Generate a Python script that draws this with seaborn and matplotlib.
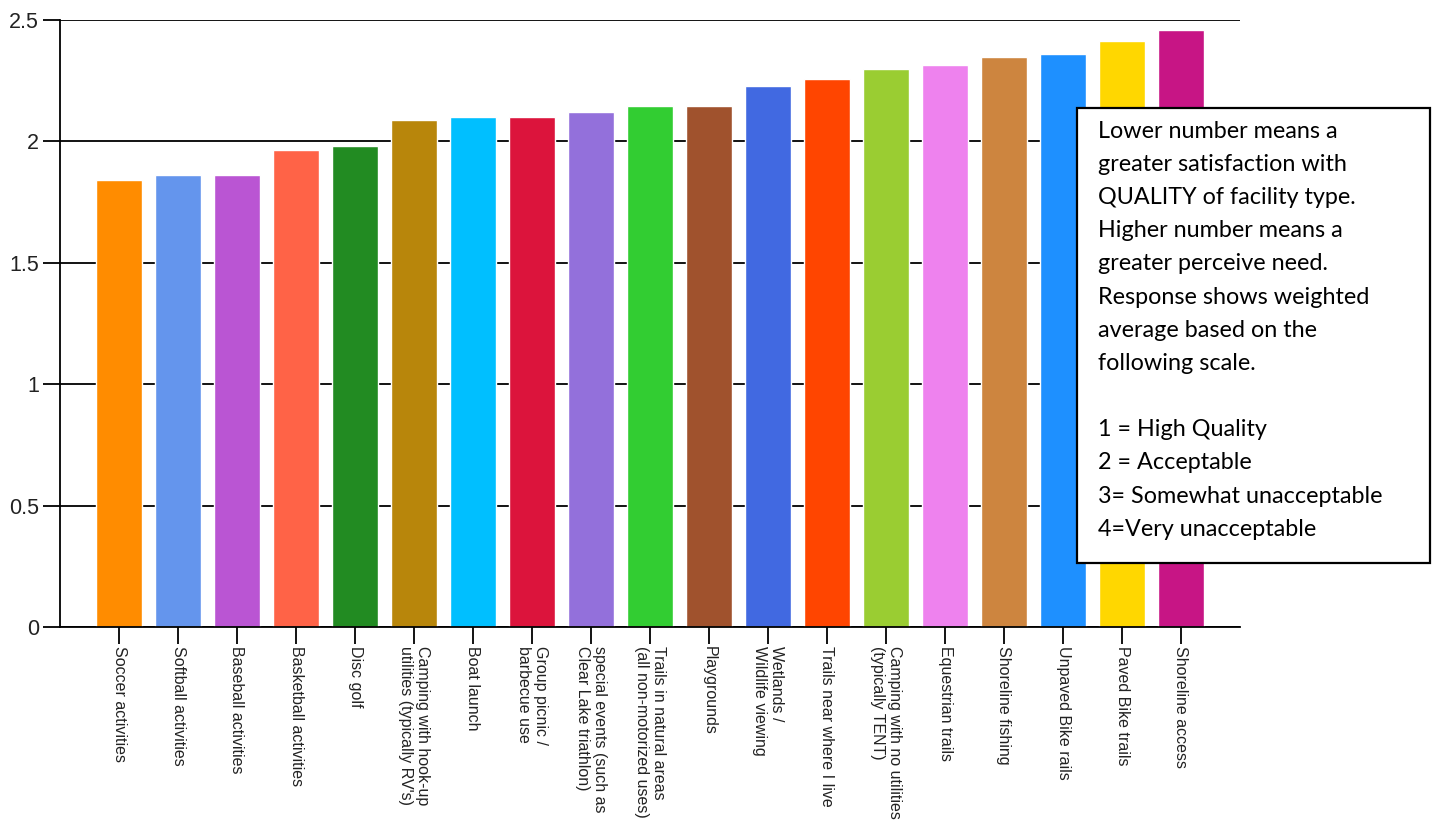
import matplotlib
matplotlib.use("Agg")
import matplotlib.pyplot as plt
import matplotlib.patches as mpatches
from matplotlib.ticker import FuncFormatter
import seaborn as sns
import pandas as pd

categories = [
    "Soccer activities",
    "Softball activities",
    "Baseball activities",
    "Basketball activities",
    "Disc golf",
    "Camping with hook-up\nutilities (typically RV's)",
    "Boat launch",
    "Group picnic /\nbarbecue use",
    "special events (such as\nClear Lake triathlon)",
    "Trails in natural areas\n(all non-motorized uses)",
    "Playgrounds",
    "Wetlands /\nWildlife viewing",
    "Trails near where I live",
    "Camping with no utilities\n(typically TENT)",
    "Equestrian trails",
    "Shoreline fishing",
    "Unpaved Bike rails",
    "Paved Bike trails",
    "Shoreline access",
]
values = [1.84, 1.86, 1.86, 1.965, 1.98, 2.09, 2.10, 2.10, 2.12, 2.146, 2.146,
          2.228, 2.257, 2.298, 2.315, 2.348, 2.36, 2.413, 2.459]
colors = ["#FF8C00", "#6495ED", "#BA55D3", "#FF6347", "#228B22", "#B8860B",
          "#00BFFF", "#DC143C", "#9370DB", "#32CD32", "#A0522D", "#4169E1",
          "#FF4500", "#9ACD32", "#EE82EE", "#CD853F", "#1E90FF", "#FFD700",
          "#C71585"]
y_ticks = [0, 0.5, 1, 1.5, 2, 2.5]

note_lines = [
    "Lower number means a",
    "greater satisfaction with",
    "QUALITY of facility type.",
    "Higher number means a",
    "greater perceive need.",
    "Response shows weighted",
    "average based on the",
    "following scale.",
    "",
    "1 = High Quality",
    "2 = Acceptable",
    "3= Somewhat unacceptable",
    "4=Very unacceptable",
]

df = pd.DataFrame({"category": categories, "value": values})

sns.set_theme(style="white")
plt.rcParams["font.family"] = ["Liberation Sans", "DejaVu Sans"]

fig = plt.figure(figsize=(14.35, 8.25), dpi=100)
ax = fig.add_axes([60 / 1435, 1 - 627 / 825, (1240 - 60) / 1435, (627 - 20) / 825])

sns.barplot(data=df, x="category", y="value", hue="category", palette=colors,
            legend=False, width=0.79, ax=ax, saturation=1)

ax.set_xlim(-1, 19)
ax.set_ylim(0, 2.5)
ax.set_yticks(y_ticks)
ax.yaxis.set_major_formatter(FuncFormatter(lambda v, p: f"{v:g}"))
ax.set_axisbelow(True)
ax.yaxis.grid(True, color="black", linewidth=1.3)
ax.xaxis.grid(False)
ax.set_xlabel("")
ax.set_ylabel("")

for s in ["top", "right"]:
    ax.spines[s].set_visible(False)
for s in ["left", "bottom"]:
    ax.spines[s].set_color("black")
    ax.spines[s].set_linewidth(1.3)

ax.tick_params(axis="y", which="major", left=True, length=12, width=1.3,
               color="black", labelsize=15.5, pad=3, labelcolor="#222222")
ax.tick_params(axis="x", which="major", bottom=True, length=12, width=1.3,
               color="black", labelsize=11.5, pad=2, labelcolor="#222222")
for lbl in ax.get_xticklabels():
    lbl.set_rotation(270)
    lbl.set_multialignment("left")
    lbl.set_ha("center")
    lbl.set_va("top")

# note box
rect = mpatches.Rectangle((1077 / 1435, 1 - 563 / 825), (1430 - 1077) / 1435,
                          (563 - 108) / 825, transform=fig.transFigure,
                          facecolor="white", edgecolor="black", linewidth=1.6,
                          zorder=5)
fig.patches.append(rect)
y0 = 131
step = 33.2
for i, line in enumerate(note_lines):
    if line:
        fig.text(1098 / 1435, 1 - (y0 + i * step) / 825, line, ha="left",
                 va="center", fontsize=16.8, family=["Lato", "DejaVu Sans"],
                 color="black", zorder=6)

fig.savefig("out.png", dpi=100)
